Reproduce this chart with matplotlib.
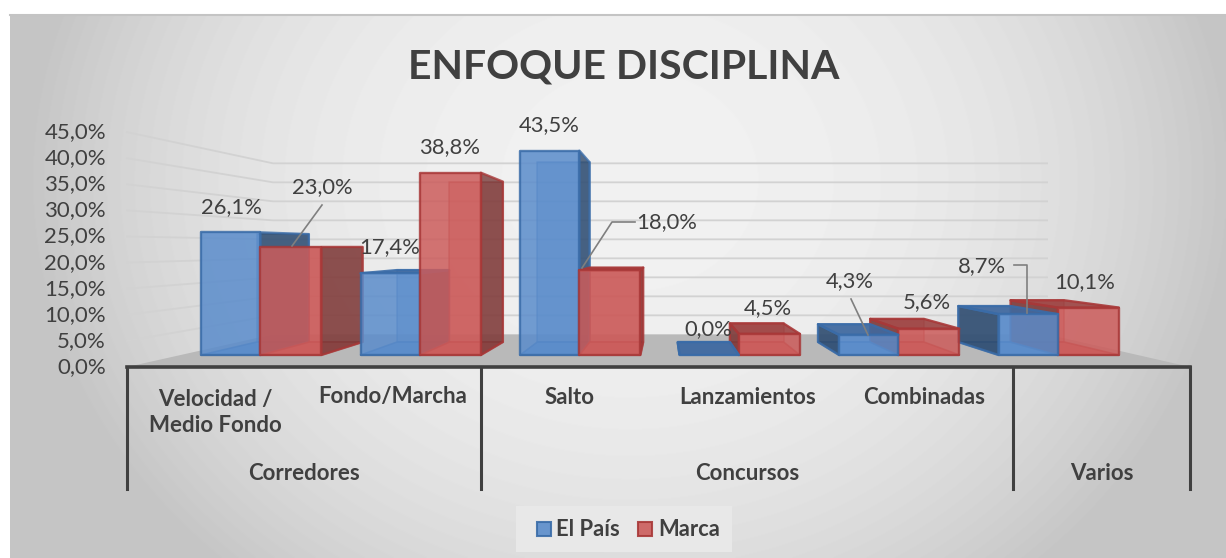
import numpy as np
import matplotlib
matplotlib.use("Agg")
import matplotlib.pyplot as plt
from matplotlib.patches import Polygon, Rectangle

plt.rcParams['font.family'] = ['Lato', 'DejaVu Sans']

W, H = 1226, 558

categories = ["Velocidad /\nMedio Fondo", "Fondo/Marcha", "Salto", "Lanzamientos", "Combinadas", ""]
groups = ["Corredores", "Concursos", "Varios"]
group_spans = [(0, 2), (2, 5), (5, 6)]
el_pais = [26.1, 17.4, 43.5, 0.0, 4.3, 8.7]
marca = [23.0, 38.8, 18.0, 4.5, 5.6, 10.1]
ticks = [0, 5, 10, 15, 20, 25, 30, 35, 40, 45]

BLUE = dict(front='#5a8ccb', side='#2f4a6b', top='#41699e', edge='#3a6ca8')
RED = dict(front='#cc5c5b', side='#783a39', top='#9c4342', edge='#a83838')
TEXT = '#404040'

# where the vanishing point sits, in data units
VX, VY = 3.03, 23.0
BAR_NEAR, BAR_FAR = 0.1, 0.208
WALL = 0.272


def proj(x, v, k):
    return x + (VX - x) * k, v + (VY - v) * k


def px(x, y):
    # picture pixel to data units
    return (x - 127) / 177.2, (367 - y) / 5.22


def fmt(v):
    return f"{v:.1f}".replace(".", ",") + "%"


def draw_bar(ax, x0, x1, v, c, z):
    def face(pts, color, alpha, lw=1.7):
        ax.add_patch(Polygon(pts, closed=True, facecolor=color, edgecolor=c['edge'],
                             linewidth=lw, alpha=alpha, zorder=z, joinstyle='round'))

    a, b = BAR_NEAR, BAR_FAR
    # back and floor first
    face([proj(x0, 0, b), proj(x1, 0, b), proj(x1, v, b), proj(x0, v, b)], c['front'], 0.5, 1.2)
    face([proj(x0, 0, a), proj(x1, 0, a), proj(x1, 0, b), proj(x0, 0, b)], c['front'], 0.8, 1.2)
    # side that faces the viewer
    if x1 < VX:
        face([proj(x1, 0, a), proj(x1, 0, b), proj(x1, v, b), proj(x1, v, a)], c['side'], 0.8)
    elif x0 > VX:
        face([proj(x0, 0, a), proj(x0, 0, b), proj(x0, v, b), proj(x0, v, a)], c['side'], 0.85)
    if v < VY:
        face([proj(x0, v, a), proj(x1, v, a), proj(x1, v, b), proj(x0, v, b)], c['top'], 0.9)
    if v > 0:
        face([proj(x0, 0, a), proj(x1, 0, a), proj(x1, v, a), proj(x0, v, a)], c['front'], 0.85)


def main():
    fig = plt.figure(figsize=(W / 100, H / 100), dpi=100, facecolor='white')
    ax = fig.add_axes([0, 0, 1, 1])

    # radial background
    yy, xx = np.mgrid[0:H, 0:W]
    d = np.hypot((xx - 630) / 600, (yy - 180) / 520)
    shade = 0.945 - 0.17 * np.clip(d, 0, 1) ** 2.5
    x0, y0 = px(10, 558)
    x1, y1 = px(1226, 15)
    ax.imshow(shade[15:, 10:], cmap='gray', vmin=0, vmax=1, aspect='auto',
              extent=(x0, x1, y0, y1), zorder=0)
    ax.set_xlim(-127 / 177.2, (W - 127) / 177.2)
    ax.set_ylim(-(H - 367) / 5.22, 367 / 5.22)
    ax.axis('off')
    ax.plot([x0, x1], [y1, y1], color='#c4c4c4', lw=1.5, zorder=1)

    # floor and gridlines
    n = len(categories)
    ax.add_patch(Polygon([proj(0, 0, 0), proj(n, 0, 0), proj(n, 0, WALL), proj(0, 0, WALL)],
                         closed=True, facecolor='#b9b9b9', edgecolor='none', zorder=1))
    for t in ticks[1:]:
        xs, ys = zip(proj(0, t, 0), proj(0, t, WALL), proj(n, t, WALL))
        ax.plot(xs, ys, color='#d2d2d2', lw=1.3, zorder=1)
        ax.text(*px(106, 367 - 5.22 * t), fmt(t), ha='right', va='center',
                fontsize=16, color=TEXT, zorder=5)
    ax.text(*px(106, 367), fmt(0), ha='right', va='center', fontsize=16, color=TEXT, zorder=5)

    # bars, far ones from the vanishing point go first
    w_blue, w_red = 0.372, 0.3825
    bars = []
    for i in range(n):
        mid = i + 0.5
        bars.append((mid - w_blue, mid, el_pais[i], BLUE))
        bars.append((mid, mid + w_red, marca[i], RED))
    bars.sort(key=lambda b: -abs((b[0] + b[1]) / 2 - VX))
    for z, (a, b, v, c) in enumerate(bars):
        draw_bar(ax, a, b, v, c, 2 + z * 0.01)

    # multi level axis
    ax.plot([0, n], [0, 0], color=TEXT, lw=2.6, zorder=4)
    ly = px(0, 489)[1]
    for s in [0, 2, 5, 6]:
        ax.plot([s, s], [0, ly], color=TEXT, lw=2.2, zorder=4)
    for i, c in enumerate(categories):
        if c:
            ax.text(i + 0.5, px(0, 412.5 if "\n" in c else 397)[1], c, ha='center', va='center',
                    fontsize=16, fontweight='bold', color=TEXT, linespacing=1.35, zorder=5)
    for g, (s, e) in zip(groups, group_spans):
        ax.text((s + e) / 2, px(0, 474)[1], g, ha='center', va='center',
                fontsize=16, fontweight='bold', color=TEXT, zorder=5)

    # data labels
    pais_pos = [(231, 207), (390, 247), (549, 125), (708, 329), (850, 281), (982, 266)]
    marca_pos = [(322, 187), (450, 147), (667, 222), (768, 308), (927, 302), (1085, 282)]
    for v, p in zip(el_pais + marca, pais_pos + marca_pos):
        ax.text(*px(*p), fmt(v), ha='center', va='center', fontsize=15.8, color=TEXT, zorder=6)

    # leader lines
    leaders = [[(322, 205), (292, 246)], [(635, 222), (612, 222), (582, 268)],
               [(851, 299), (868, 335)], [(1014, 265), (1027, 265), (1027, 313)]]
    for line in leaders:
        xs, ys = zip(*[px(*q) for q in line])
        ax.plot(xs, ys, color='#7f7f7f', lw=1.2, zorder=6)

    ax.text(*px(624, 67), "ENFOQUE DISCIPLINA", ha='center', va='center',
            fontsize=29.5, fontweight='bold', color=TEXT, zorder=6)

    # legend
    lx, ly0 = px(516, 552)
    lx1, ly1 = px(732, 506)
    ax.add_patch(Rectangle((lx, ly0), lx1 - lx, ly1 - ly0, facecolor='#e8e8e8', edgecolor='none', zorder=5))
    for sx, c, name, tx in [(537, BLUE, "El País", 556), (638, RED, "Marca", 658)]:
        a, b = px(sx, 536)
        a1, b1 = px(sx + 14, 522)
        ax.add_patch(Rectangle((a, b), a1 - a, b1 - b, facecolor=c['front'], edgecolor=c['edge'],
                               linewidth=1.5, alpha=0.9, zorder=6))
        ax.text(*px(tx, 529), name, ha='left', va='center', fontsize=15.8,
                fontweight='bold', color=TEXT, zorder=6)

    fig.savefig("out.png", dpi=100)


if __name__ == "__main__":
    main()
